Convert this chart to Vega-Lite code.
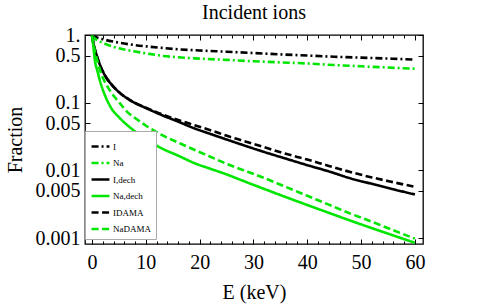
{
  "$schema": "https://vega.github.io/schema/vega-lite/v6.json",
  "width": 338,
  "height": 209,
  "autosize": {"type": "none"},
  "padding": {"left": 85, "top": 35, "right": 70, "bottom": 63},
  "background": "white",
  "title": {"text": "Incident ions", "fontSize": 20, "font": "Liberation Serif", "fontWeight": "normal", "color": "black", "baseline": "alphabetic", "offset": 4, "dy": 18, "frame": "group", "anchor": "middle"},
  "config": {
    "font": "Liberation Serif",
    "view": {"stroke": "black", "strokeWidth": 1.3},
    "legend": {
      "title": null,
      "orient": "none",
      "legendX": 0,
      "legendY": 96,
      "padding": 5,
      "rowPadding": 0.5,
      "labelFontSize": 9,
      "labelFont": "Liberation Serif",
      "labelColor": "black",
      "labelOffset": 2,
      "strokeColor": "#aaaaaa",
      "fillColor": "white",
      "symbolType": "stroke",
      "symbolSize": 320,
      "symbolStrokeWidth": 2.5
    }
  },
  "data": {"values": [
    {"s": "I", "E": 0, "v": 1}, {"s": "I", "E": 1, "v": 0.93}, {"s": "I", "E": 2, "v": 0.88}, {"s": "I", "E": 4, "v": 0.81}, {"s": "I", "E": 6, "v": 0.76}, {"s": "I", "E": 8, "v": 0.72}, {"s": "I", "E": 10, "v": 0.69}, {"s": "I", "E": 13, "v": 0.655}, {"s": "I", "E": 16, "v": 0.625}, {"s": "I", "E": 20, "v": 0.6}, {"s": "I", "E": 25, "v": 0.575}, {"s": "I", "E": 30, "v": 0.55}, {"s": "I", "E": 35, "v": 0.525}, {"s": "I", "E": 40, "v": 0.505}, {"s": "I", "E": 45, "v": 0.485}, {"s": "I", "E": 50, "v": 0.47}, {"s": "I", "E": 55, "v": 0.455}, {"s": "I", "E": 60, "v": 0.44},
    {"s": "Na", "E": 0, "v": 1}, {"s": "Na", "E": 0.5, "v": 0.9}, {"s": "Na", "E": 1, "v": 0.85}, {"s": "Na", "E": 1.5, "v": 0.81}, {"s": "Na", "E": 2, "v": 0.78}, {"s": "Na", "E": 4, "v": 0.68}, {"s": "Na", "E": 6, "v": 0.62}, {"s": "Na", "E": 8, "v": 0.58}, {"s": "Na", "E": 10, "v": 0.545}, {"s": "Na", "E": 13, "v": 0.5}, {"s": "Na", "E": 16, "v": 0.475}, {"s": "Na", "E": 20, "v": 0.455}, {"s": "Na", "E": 25, "v": 0.435}, {"s": "Na", "E": 30, "v": 0.415}, {"s": "Na", "E": 35, "v": 0.4}, {"s": "Na", "E": 40, "v": 0.385}, {"s": "Na", "E": 45, "v": 0.365}, {"s": "Na", "E": 50, "v": 0.35}, {"s": "Na", "E": 55, "v": 0.335}, {"s": "Na", "E": 60, "v": 0.322},
    {"s": "I,dech", "E": 0, "v": 1}, {"s": "I,dech", "E": 0.3, "v": 0.75}, {"s": "I,dech", "E": 0.9, "v": 0.5}, {"s": "I,dech", "E": 1.8, "v": 0.32}, {"s": "I,dech", "E": 2.7, "v": 0.235}, {"s": "I,dech", "E": 3.7, "v": 0.185}, {"s": "I,dech", "E": 5, "v": 0.145}, {"s": "I,dech", "E": 6.7, "v": 0.115}, {"s": "I,dech", "E": 8, "v": 0.1}, {"s": "I,dech", "E": 9.9, "v": 0.085}, {"s": "I,dech", "E": 13, "v": 0.066}, {"s": "I,dech", "E": 16, "v": 0.053}, {"s": "I,dech", "E": 19, "v": 0.0422}, {"s": "I,dech", "E": 22, "v": 0.0348}, {"s": "I,dech", "E": 25, "v": 0.0288}, {"s": "I,dech", "E": 28, "v": 0.0239}, {"s": "I,dech", "E": 32, "v": 0.0188}, {"s": "I,dech", "E": 36, "v": 0.015}, {"s": "I,dech", "E": 40, "v": 0.012}, {"s": "I,dech", "E": 44, "v": 0.0097}, {"s": "I,dech", "E": 48, "v": 0.00766}, {"s": "I,dech", "E": 52, "v": 0.00634}, {"s": "I,dech", "E": 56, "v": 0.00526}, {"s": "I,dech", "E": 60, "v": 0.00442},
    {"s": "Na,dech", "E": 0, "v": 1}, {"s": "Na,dech", "E": 0.25, "v": 0.7}, {"s": "Na,dech", "E": 0.55, "v": 0.42}, {"s": "Na,dech", "E": 1, "v": 0.3}, {"s": "Na,dech", "E": 1.5, "v": 0.21}, {"s": "Na,dech", "E": 2.5, "v": 0.125}, {"s": "Na,dech", "E": 3.66, "v": 0.082}, {"s": "Na,dech", "E": 5, "v": 0.0616}, {"s": "Na,dech", "E": 6.74, "v": 0.0456}, {"s": "Na,dech", "E": 8, "v": 0.038}, {"s": "Na,dech", "E": 9.85, "v": 0.03}, {"s": "Na,dech", "E": 12.95, "v": 0.0213}, {"s": "Na,dech", "E": 16, "v": 0.0166}, {"s": "Na,dech", "E": 19.1, "v": 0.0128}, {"s": "Na,dech", "E": 22, "v": 0.0106}, {"s": "Na,dech", "E": 25.3, "v": 0.00858}, {"s": "Na,dech", "E": 28, "v": 0.00706}, {"s": "Na,dech", "E": 32, "v": 0.00533}, {"s": "Na,dech", "E": 36, "v": 0.00404}, {"s": "Na,dech", "E": 40, "v": 0.00308}, {"s": "Na,dech", "E": 44, "v": 0.00236}, {"s": "Na,dech", "E": 48, "v": 0.00181}, {"s": "Na,dech", "E": 52, "v": 0.0014}, {"s": "Na,dech", "E": 56, "v": 0.00109}, {"s": "Na,dech", "E": 60, "v": 0.00085},
    {"s": "IDAMA", "E": 0, "v": 1}, {"s": "IDAMA", "E": 0.3, "v": 0.75}, {"s": "IDAMA", "E": 0.9, "v": 0.5}, {"s": "IDAMA", "E": 1.8, "v": 0.32}, {"s": "IDAMA", "E": 2.7, "v": 0.235}, {"s": "IDAMA", "E": 3.7, "v": 0.185}, {"s": "IDAMA", "E": 5, "v": 0.145}, {"s": "IDAMA", "E": 6.7, "v": 0.115}, {"s": "IDAMA", "E": 8, "v": 0.1}, {"s": "IDAMA", "E": 9.9, "v": 0.086}, {"s": "IDAMA", "E": 13, "v": 0.068}, {"s": "IDAMA", "E": 16, "v": 0.056}, {"s": "IDAMA", "E": 19, "v": 0.047}, {"s": "IDAMA", "E": 22, "v": 0.0395}, {"s": "IDAMA", "E": 25.5, "v": 0.0318}, {"s": "IDAMA", "E": 28, "v": 0.0277}, {"s": "IDAMA", "E": 32, "v": 0.0221}, {"s": "IDAMA", "E": 36, "v": 0.0177}, {"s": "IDAMA", "E": 40, "v": 0.0145}, {"s": "IDAMA", "E": 44, "v": 0.0117}, {"s": "IDAMA", "E": 48, "v": 0.0095}, {"s": "IDAMA", "E": 52, "v": 0.0079}, {"s": "IDAMA", "E": 56, "v": 0.0067}, {"s": "IDAMA", "E": 60, "v": 0.00572},
    {"s": "NaDAMA", "E": 0, "v": 1}, {"s": "NaDAMA", "E": 0.5, "v": 0.6}, {"s": "NaDAMA", "E": 1, "v": 0.42}, {"s": "NaDAMA", "E": 1.8, "v": 0.26}, {"s": "NaDAMA", "E": 2.7, "v": 0.185}, {"s": "NaDAMA", "E": 3.66, "v": 0.14}, {"s": "NaDAMA", "E": 5, "v": 0.103}, {"s": "NaDAMA", "E": 6.74, "v": 0.0715}, {"s": "NaDAMA", "E": 8, "v": 0.06}, {"s": "NaDAMA", "E": 9.85, "v": 0.0472}, {"s": "NaDAMA", "E": 12.95, "v": 0.0336}, {"s": "NaDAMA", "E": 16, "v": 0.026}, {"s": "NaDAMA", "E": 19.1, "v": 0.0201}, {"s": "NaDAMA", "E": 22, "v": 0.016}, {"s": "NaDAMA", "E": 25.3, "v": 0.0123}, {"s": "NaDAMA", "E": 28, "v": 0.0102}, {"s": "NaDAMA", "E": 32, "v": 0.00774}, {"s": "NaDAMA", "E": 36, "v": 0.00571}, {"s": "NaDAMA", "E": 40, "v": 0.00422}, {"s": "NaDAMA", "E": 44, "v": 0.00312}, {"s": "NaDAMA", "E": 48, "v": 0.0023}, {"s": "NaDAMA", "E": 52, "v": 0.00174}, {"s": "NaDAMA", "E": 56, "v": 0.0013}, {"s": "NaDAMA", "E": 60, "v": 0.00098}
  ]},
  "resolve": {"axis": {"x": "independent", "y": "independent"}},
  "layer": [
    {
      "mark": {"type": "line", "strokeWidth": 2.6, "clip": true, "strokeCap": "butt", "interpolate": "monotone"},
      "encoding": {
        "x": {"field": "E", "type": "quantitative", "scale": {"domain": [-1.3, 61.5], "nice": false, "zero": false},
          "axis": {"orient": "bottom", "values": [0, 10, 20, 30, 40, 50, 60], "tickSize": -5, "tickColor": "black", "labelPadding": 13.5, "labelFontSize": 20, "labelFont": "Liberation Serif", "labelColor": "black", "labelFlush": false, "labelOverlap": false, "domain": false, "grid": false,
            "title": "E (keV)", "titleFontSize": 20, "titleFont": "Liberation Serif", "titleFontWeight": "normal", "titleColor": "black", "titleY": 54, "titleBaseline": "alphabetic"}},
        "y": {"field": "v", "type": "quantitative", "scale": {"type": "log", "domain": [0.000815, 1.017], "nice": false},
          "axis": {"orient": "left", "values": [1, 0.5, 0.1, 0.05, 0.01, 0.005, 0.001], "tickSize": -5, "tickColor": "black", "labelPadding": 10, "labelFontSize": 20, "labelFont": "Liberation Serif", "labelColor": "black", "labelFlush": false, "labelOverlap": false, "labelExpr": "datum.value == 1 ? '1.' : format(datum.value, '~g')", "domain": false, "grid": false,
            "title": "Fraction", "titleFontSize": 20, "titleFont": "Liberation Serif", "titleFontWeight": "normal", "titleColor": "black", "titleX": -70, "titleBaseline": "middle", "titleAlign": "center"}},
        "color": {"field": "s", "type": "nominal", "scale": {"domain": ["I", "Na", "I,dech", "Na,dech", "IDAMA", "NaDAMA"], "range": ["black", "#00e600", "black", "#00e600", "black", "#00e600"]}},
        "strokeDash": {"field": "s", "type": "nominal", "scale": {"domain": ["I", "Na", "I,dech", "Na,dech", "IDAMA", "NaDAMA"], "range": [[7, 3, 2, 3], [7, 3, 2, 3], [1, 0], [1, 0], [7, 3.5], [7, 3.5]]}}
      }
    },
    {
      "mark": {"type": "point", "opacity": 0, "clip": true},
      "encoding": {
        "x": {"field": "E", "type": "quantitative", "axis": {"orient": "bottom", "values": [2, 4, 6, 8, 12, 14, 16, 18, 22, 24, 26, 28, 32, 34, 36, 38, 42, 44, 46, 48, 52, 54, 56, 58], "tickSize": -3, "tickColor": "black", "labels": false, "domain": false, "grid": false, "title": null, "minExtent": 0, "maxExtent": 0}},
        "y": {"field": "v", "type": "quantitative", "axis": {"orient": "right", "values": [1, 0.5, 0.1, 0.05, 0.01, 0.005, 0.001], "tickSize": -5, "tickColor": "black", "labels": false, "domain": false, "grid": false, "title": null, "minExtent": 0, "maxExtent": 0}}
      }
    },
    {
      "mark": {"type": "point", "opacity": 0, "clip": true},
      "encoding": {
        "x": {"field": "E", "type": "quantitative", "axis": {"orient": "top", "values": [0, 10, 20, 30, 40, 50, 60], "tickSize": -5, "tickColor": "black", "labels": false, "domain": false, "grid": false, "title": null, "minExtent": 0, "maxExtent": 0}},
        "y": {"field": "v", "type": "quantitative", "axis": null}
      }
    },
    {
      "mark": {"type": "point", "opacity": 0, "clip": true},
      "encoding": {
        "x": {"field": "E", "type": "quantitative", "axis": {"orient": "top", "values": [2, 4, 6, 8, 12, 14, 16, 18, 22, 24, 26, 28, 32, 34, 36, 38, 42, 44, 46, 48, 52, 54, 56, 58], "tickSize": -3, "tickColor": "black", "labels": false, "domain": false, "grid": false, "title": null, "minExtent": 0, "maxExtent": 0}},
        "y": {"field": "v", "type": "quantitative", "axis": null}
      }
    }
  ]
}
